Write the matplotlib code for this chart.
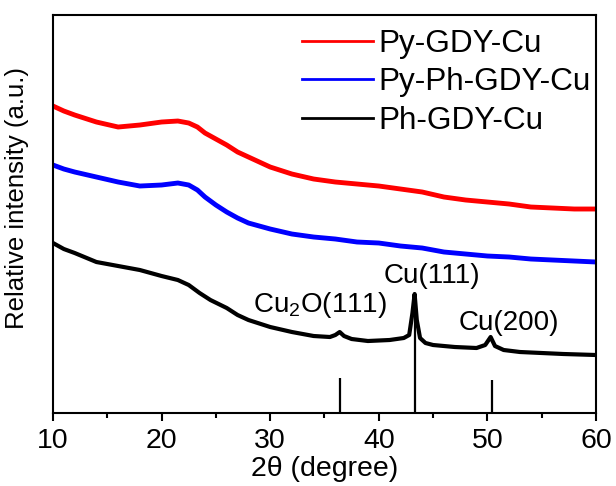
import numpy as np
import matplotlib
matplotlib.use('Agg')
import matplotlib.pyplot as plt
plt.rcParams['font.family'] = 'Liberation Sans'
plt.rcParams['mathtext.fontset'] = 'custom'
plt.rcParams['mathtext.rm'] = 'Liberation Sans'
plt.rcParams['mathtext.default'] = 'regular'
plt.rcParams['axes.linewidth'] = 1.5

# values (arbitrary intensity units)
x_red = [10, 11, 12, 14, 16, 18, 20, 21.5, 22.5, 23.3, 24, 25, 26, 27, 28, 30, 32, 34,
         36, 38, 40, 42, 44, 46, 48, 50, 52, 54, 56, 58, 60]
y_red = [307, 302, 298, 291, 286, 288, 291, 292, 290, 286, 280, 274, 268, 261, 256, 246,
         239, 234, 231, 229, 227, 224, 221, 216, 213, 211, 209, 206, 205, 204, 204]

x_blue = x_red
y_blue = [248, 244, 241, 236, 231, 227, 228, 230, 228, 223, 216, 208, 201, 195, 190, 184,
          179, 176, 174, 171, 170, 167, 165, 161, 159, 157, 156, 154, 153, 152, 151]

x_black = [10, 11, 12, 14, 16, 18, 20, 21.5, 22.5, 23.5, 24.5, 26, 27, 28, 30, 32, 34,
           35.5, 36.0, 36.4, 36.8, 37.5, 39, 41, 42.3, 42.8, 43.1, 43.3, 43.5, 43.8,
           44.3, 45, 47, 49, 49.8, 50.3, 50.7, 51.5, 53, 55, 57, 60]
y_black = [170, 164, 160, 151, 147, 143, 137, 133, 128, 120, 113, 105, 98, 93, 86, 81,
           77, 76, 78, 81, 77, 74, 72, 73, 75, 78, 100, 119, 93, 75, 70, 68, 66, 65,
           68, 76, 67, 63, 61, 60, 59, 58]

# reference pattern (standard card) positions and heights
ref_pos = [36.4, 43.3, 50.4]
ref_height = [35, 120, 33]

labels = ['Py-GDY-Cu', 'Py-Ph-GDY-Cu', 'Ph-GDY-Cu']
peak_labels = [r'Cu$_2$O(111)', 'Cu(111)', 'Cu(200)']
peak_x = [34.6, 44.9, 52.0]
peak_y = [101, 130, 83]

fig = plt.figure(figsize=(6.16, 4.86), dpi=100)
ax = fig.add_axes([0.086, 0.1502, 0.8815, 0.8189])

ax.plot(x_red, y_red, c='#ff0000', lw=3.5, label=labels[0], solid_joinstyle='round')
ax.plot(x_blue, y_blue, c='#0000ff', lw=3.5, label=labels[1], solid_joinstyle='round')
ax.plot(x_black, y_black, c='black', lw=3.0, label=labels[2], solid_joinstyle='round')
ax.vlines(ref_pos, 0, ref_height, colors='black', lw=1.6)

for t, px, py in zip(peak_labels, peak_x, peak_y):
    ax.text(px, py, t, ha='center', va='baseline', fontsize=20)

ax.set_xlim(10, 60)
ax.set_ylim(0, 398)
ax.set_xticks([10, 20, 30, 40, 50, 60])
ax.set_xticks([15, 25, 35, 45, 55], minor=True)
ax.set_yticks([])
ax.tick_params(axis='x', which='major', direction='out', length=6, width=1.5,
               labelsize=20.5, pad=5)
ax.tick_params(axis='x', which='minor', direction='out', length=3.5, width=1.5)
ax.set_xlabel('2\u03b8 (degree)', fontsize=20.5, labelpad=1)
ax.set_ylabel('Relative intensity (a.u.)', fontsize=18.5)
ax.yaxis.set_label_coords(-0.045, 0.54)

leg = ax.legend(loc='upper left', bbox_to_anchor=(0.4586, 0.965), frameon=False,
                fontsize=22.7, handlelength=2.25, handletextpad=0.16, labelspacing=0.27,
                borderpad=0, borderaxespad=0)
for h in leg.legend_handles:
    h.set_linewidth(2.0)

fig.savefig('out.png', dpi=100)
